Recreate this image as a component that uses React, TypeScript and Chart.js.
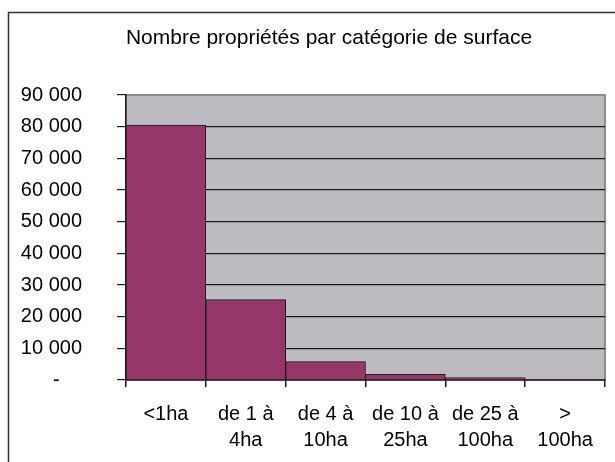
import React, { useEffect, useRef } from "react";
import { Chart, registerables } from "chart.js";

Chart.register(...registerables);

const TITLE = "Nombre propriétés par catégorie de surface";
const CATEGORIES: (string | string[])[] = [
  "<1ha",
  ["de 1 à", "4ha"],
  ["de 4 à", "10ha"],
  ["de 10 à", "25ha"],
  ["de 25 à", "100ha"],
  [">", "100ha"],
];
const PROPRIETES = [80500, 25400, 5800, 1800, 800, 100];
const Y_MIN = 0;
const Y_MAX = 90000;
const Y_STEP = 10000;

const FONT = "Arial, 'Liberation Sans', sans-serif";

function formatTick(v: number): string {
  if (v === 0) return "-\u2007\u2007";
  return String(v).replace(/\B(?=(\d{3})+(?!\d))/g, " ");
}

const framePlugin = {
  id: "frame",
  beforeDraw(chart: any) {
    const { ctx, chartArea: a } = chart;
    ctx.save();
    ctx.fillStyle = "#ffffff";
    ctx.fillRect(0, 0, chart.width, chart.height);
    // outer frame (top + left visible)
    ctx.strokeStyle = "#333333";
    ctx.lineWidth = 1.5;
    ctx.beginPath();
    ctx.moveTo(8.5, chart.height + 2);
    ctx.lineTo(8.5, 12.5);
    ctx.lineTo(chart.width + 2, 12.5);
    ctx.stroke();
    // plot area background
    ctx.fillStyle = "#bcbcc0";
    ctx.fillRect(a.left, a.top, a.right - a.left, a.bottom - a.top);
    ctx.strokeStyle = "#8c8c8c";
    ctx.lineWidth = 2;
    ctx.strokeRect(a.left, a.top, a.right - a.left, a.bottom - a.top);
    // title
    ctx.fillStyle = "#000000";
    ctx.font = `21px ${FONT}`;
    ctx.textAlign = "center";
    ctx.textBaseline = "middle";
    ctx.fillText(TITLE, 329, 38);
    ctx.restore();
  },
};

export default function App() {
  const ref = useRef<HTMLCanvasElement | null>(null);

  useEffect(() => {
    document.body.style.margin = "0";
    const canvas = ref.current;
    if (!canvas) return;
    const chart = new Chart(canvas, {
      type: "bar",
      data: {
        labels: CATEGORIES as any,
        datasets: [
          {
            label: TITLE,
            data: PROPRIETES,
            backgroundColor: "#953769",
            borderColor: "#1a1a1a",
            borderWidth: 1,
            borderSkipped: "bottom",
            barPercentage: 1,
            categoryPercentage: 1,
          },
        ],
      },
      options: {
        responsive: false,
        animation: false,
        devicePixelRatio: 1,
        layout: { padding: { top: 95, right: 10, left: 0, bottom: 0 } },
        plugins: {
          legend: { display: false },
          title: { display: false },
          tooltip: { enabled: false },
        },
        scales: {
          x: {
            type: "category",
            offset: true,
            afterFit: (s: any) => {
              s.height = 82;
            },
            grid: {
              offset: true,
              drawOnChartArea: false,
              drawTicks: true,
              tickLength: 7,
              color: "#1a1a1a",
              lineWidth: 1.5,
            },
            border: { color: "#1a1a1a", width: 1.5 },
            ticks: {
              color: "#000000",
              font: { family: FONT, size: 20, lineHeight: 1.3 },
              padding: 14,
              maxRotation: 0,
              autoSkip: false,
            },
          },
          y: {
            min: Y_MIN,
            max: Y_MAX,
            afterFit: (s: any) => {
              s.width = 126;
            },
            grid: {
              color: (c: any) => (c.tick && c.tick.value === Y_MAX ? "#8c8c8c" : "#1a1a1a"),
              tickColor: "#1a1a1a",
              lineWidth: 1.2,
              tickLength: 9,
            },
            border: { color: "#1a1a1a", width: 1.5 },
            ticks: {
              stepSize: Y_STEP,
              color: "#000000",
              font: { family: FONT, size: 20 },
              padding: 35,
              callback: (v: any) => formatTick(Number(v)),
            },
          },
        },
      },
      plugins: [framePlugin],
    });
    return () => chart.destroy();
  }, []);

  return (
    <div style={{ width: 615, height: 462, overflow: "hidden", position: "relative" }}>
      <canvas ref={ref} width={615} height={462} style={{ display: "block" }} />
    </div>
  );
}
